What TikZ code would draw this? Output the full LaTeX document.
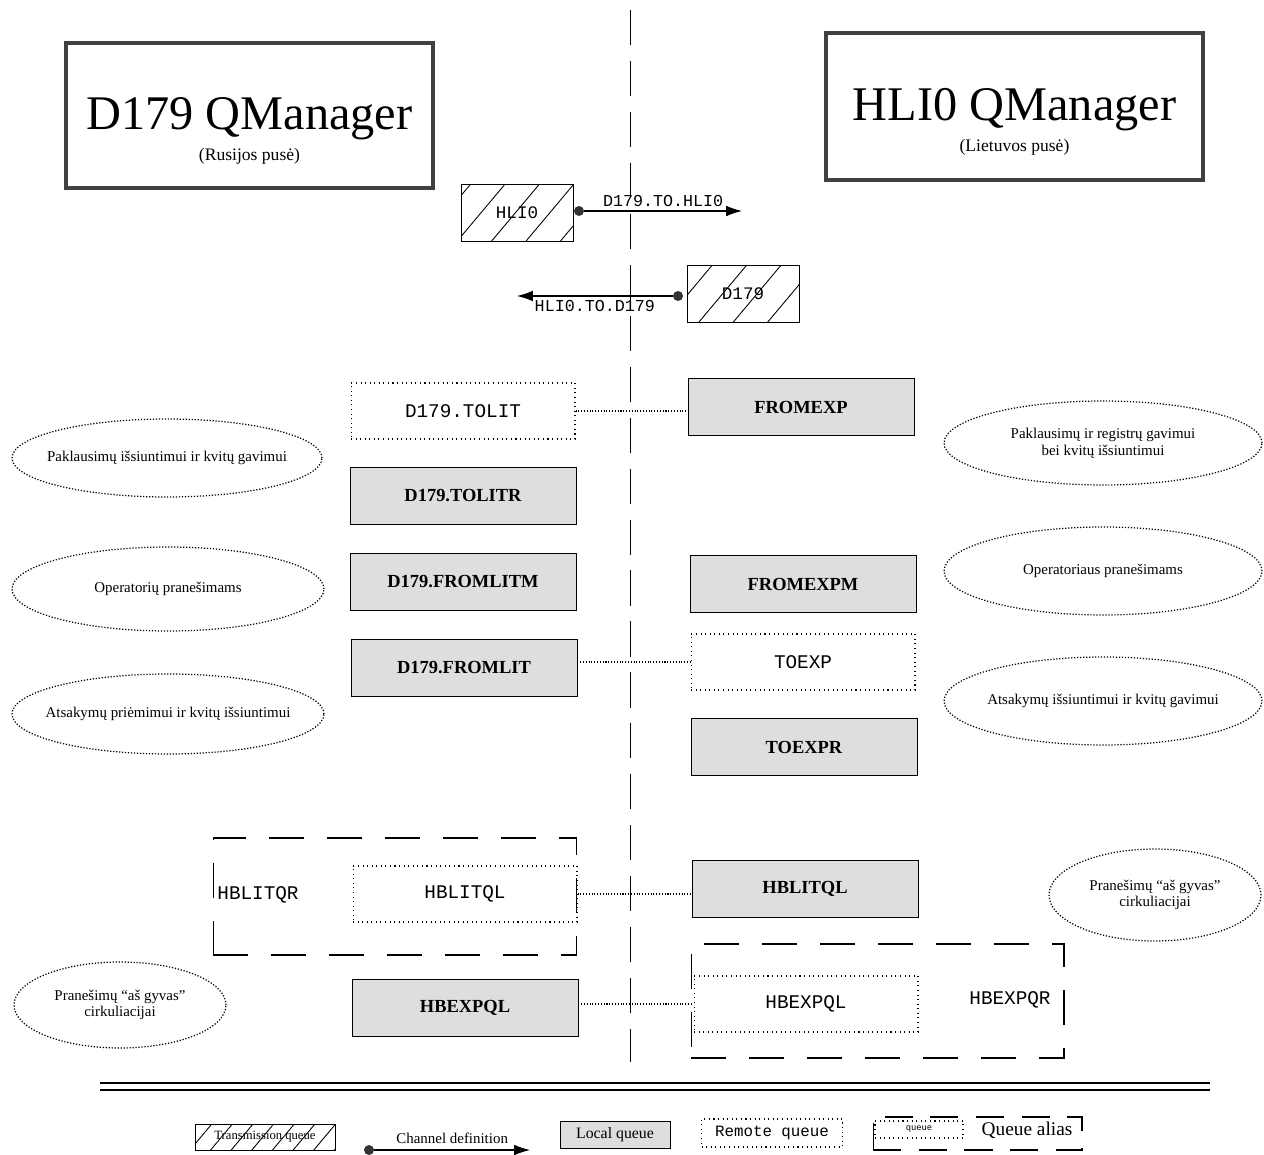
\documentclass[tikz,border=0pt]{standalone}
\usepackage{fontspec}
\setmainfont{Liberation Serif}
\setmonofont{Liberation Mono}
\usetikzlibrary{patterns.meta,shapes.geometric,arrows.meta}
\begin{document}
\begin{tikzpicture}[x=0.02cm,y=-0.02cm,
	qmgr/.style={draw=black!75,line width=2.2pt,align=center,inner sep=0pt},
	xmitq/.style={draw,pattern={Lines[angle=50,distance=15pt,line width=0.5pt]},minimum width=2.24cm,minimum height=1.14cm,font=\ttfamily\fontsize{10}{12}\selectfont},
	localq/.style={draw,fill=black!13,minimum width=4.52cm,minimum height=1.13cm,font=\bfseries\fontsize{10.5}{12}\selectfont},
	remoteq/.style={draw,dotted,line width=0.6pt,minimum width=4.48cm,minimum height=1.12cm,font=\ttfamily\fontsize{11}{12}\selectfont},
	aliasq/.style={draw,dash pattern=on 20pt off 13pt,line width=0.6pt,inner sep=0pt},
	note/.style={draw,ellipse,densely dotted,line width=0.7pt,inner sep=0pt},
	notetext/.style={font=\fontsize{8.5}{9.5}\selectfont,align=center},
	chdot/.style={circle,fill=black!80,inner sep=0pt,minimum size=0.2cm},
	chan/.style={-{Latex[length=9pt,width=6pt]},line width=0.6pt},
	chlabel/.style={font=\ttfamily\fontsize{9.5}{11}\selectfont,inner sep=2pt},
	link/.style={densely dotted,line width=0.6pt}]
	\useasboundingbox (0,0) rectangle (1264,1155);
	% border line between the two sides
	\draw[dash pattern=on 20pt off 9pt,line width=0.5pt] (630,10)--(630,1062);
	% queue managers
	\node[qmgr,minimum width=7.34cm,minimum height=2.9cm] (mgrd) at (249.5,115.5)
		{{\fontsize{27.5}{30}\selectfont\rule{0pt}{36pt}D179 QManager}\\[4pt]{\fontsize{10}{11}\selectfont (Rusijos pusė)}};
	\node[qmgr,minimum width=7.54cm,minimum height=2.94cm] (mgrh) at (1014.5,106.5)
		{{\fontsize{27.5}{30}\selectfont\rule{0pt}{36pt}HLI0 QManager}\\[4pt]{\fontsize{10}{11}\selectfont (Lietuvos pusė)}};
	% transmission queues and channels
	\node[xmitq] (xhli) at (517,212.5) {HLI0};
	\node[xmitq] (xd) at (743,293.5) {D179};
	\node[chdot] (dot1) at (579,211) {};
	\coordinate (end1) at (742,211);
	\draw[chan] (dot1)--(end1) node[chlabel,midway,above] (ch1) {D179.TO.HLI0};
	\node[chdot] (dot2) at (678,296) {};
	\coordinate (end2) at (517,296);
	\draw[chan] (dot2)--(end2) node[chlabel,midway,below] (ch2) {HLI0.TO.D179};
	% queues
	\node[remoteq] (tolit) at (463,411) {D179.TOLIT};
	\node[localq] (fromexp) at (801,407) {FROMEXP};
	\node[localq] (tolitr) at (463,496) {D179.TOLITR};
	\node[localq] (fromlitm) at (463,582) {D179.FROMLITM};
	\node[localq] (fromexpm) at (803,584) {FROMEXPM};
	\node[localq] (fromlit) at (464,668) {D179.FROMLIT};
	\node[remoteq] (toexp) at (803,662) {TOEXP};
	\node[localq] (toexpr) at (804,747) {TOEXPR};
	\draw[link] (tolit.east)--(tolit.east-|fromexp.west);
	\draw[link] (fromlit.east|-toexp.west)--(toexp.west);
	% alias queues
	\node[aliasq,minimum width=7.28cm,minimum height=2.34cm] (aliasl) at (395,896.5) {};
	\node[font=\ttfamily\fontsize{11}{12}\selectfont] (aliasltext) at (258,895) {HBLITQR};
	\node[remoteq] (hblitqlr) at (465,894) {HBLITQL};
	\node[localq] (hblitql) at (805,889) {HBLITQL};
	\draw[link] (hblitqlr.east)--(hblitqlr.east-|hblitql.west);
	\node[aliasq,minimum width=7.46cm,minimum height=2.28cm] (aliash) at (877.5,1001) {};
	\node[font=\ttfamily\fontsize{11}{12}\selectfont] (aliashtext) at (1010,1000) {HBEXPQR};
	\node[remoteq] (hbexpqlr) at (806,1004) {HBEXPQL};
	\node[localq] (hbexpql) at (465,1008) {HBEXPQL};
	\draw[link] (hbexpql.east|-hbexpqlr.west)--(hbexpqlr.west);
	% notes
	\node[note,minimum width=6.2cm,minimum height=1.56cm] (nl1) at (167,458) {};
	\node[notetext] (nl1t) at (nl1) {Paklausimų išsiuntimui ir kvitų gavimui};
	\node[note,minimum width=6.36cm,minimum height=1.68cm] (nr1) at (1103,443) {};
	\node[notetext] (nr1t) at (nr1) {Paklausimų ir registrų gavimui\\bei kvitų išsiuntimui};
	\node[note,minimum width=6.24cm,minimum height=1.68cm] (nl2) at (168,589) {};
	\node[notetext] (nl2t) at (nl2) {Operatorių pranešimams};
	\node[note,minimum width=6.36cm,minimum height=1.76cm] (nr2) at (1103,571) {};
	\node[notetext] (nr2t) at (nr2) {Operatoriaus pranešimams};
	\node[note,minimum width=6.24cm,minimum height=1.6cm] (nl3) at (168,714) {};
	\node[notetext] (nl3t) at (nl3) {Atsakymų priėmimui ir kvitų išsiuntimui};
	\node[note,minimum width=6.36cm,minimum height=1.76cm] (nr3) at (1103,701) {};
	\node[notetext] (nr3t) at (nr3) {Atsakymų išsiuntimui ir kvitų gavimui};
	\node[note,minimum width=4.24cm,minimum height=1.84cm] (nr4) at (1155,895) {};
	\node[notetext] (nr4t) at (nr4) {Pranešimų ``aš gyvas''\\cirkuliacijai};
	\node[note,minimum width=4.24cm,minimum height=1.72cm] (nl4) at (120,1005) {};
	\node[notetext] (nl4t) at (nl4) {Pranešimų ``aš gyvas''\\cirkuliacijai};
	% legend
	\draw[line width=0.8pt] (100,1083)--(1210,1083);
	\draw[line width=0.8pt] (100,1090)--(1210,1090);
	\node[xmitq,pattern={Lines[angle=50,distance=9pt,line width=0.5pt]},minimum width=2.8cm,minimum height=0.52cm,inner sep=0pt,font=\fontsize{7.2}{8}\selectfont] (lgx) at (265,1137) {Transmission queue};
	\node[chdot] (lgdot) at (369,1150) {};
	\coordinate (lgend) at (530,1150);
	\draw[chan] (lgdot)--(lgend) node[midway,above,font=\fontsize{8.5}{9}\selectfont] (lgch) {Channel definition};
	\node[localq,minimum width=2.2cm,minimum height=0.54cm,inner sep=0pt,font=\fontsize{9}{10}\selectfont] (lgl) at (615,1135) {Local queue};
	\node[remoteq,minimum width=2.82cm,minimum height=0.56cm,inner sep=0pt,font=\ttfamily\fontsize{9}{10}\selectfont] (lgr) at (772,1133) {Remote queue};
	\node[aliasq,dash pattern=on 16pt off 10pt,minimum width=4.18cm,minimum height=0.66cm] (lga) at (977.5,1133.5) {};
	\node[remoteq,minimum width=1.76cm,minimum height=0.34cm,inner sep=0pt,font=\ttfamily\fontsize{5}{6}\selectfont] (lgaq) at (919,1129.5) {queue};
	\node[font=\fontsize{11}{12}\selectfont] (lgat) at (1027,1130) {Queue alias};
\end{tikzpicture}
\end{document}
